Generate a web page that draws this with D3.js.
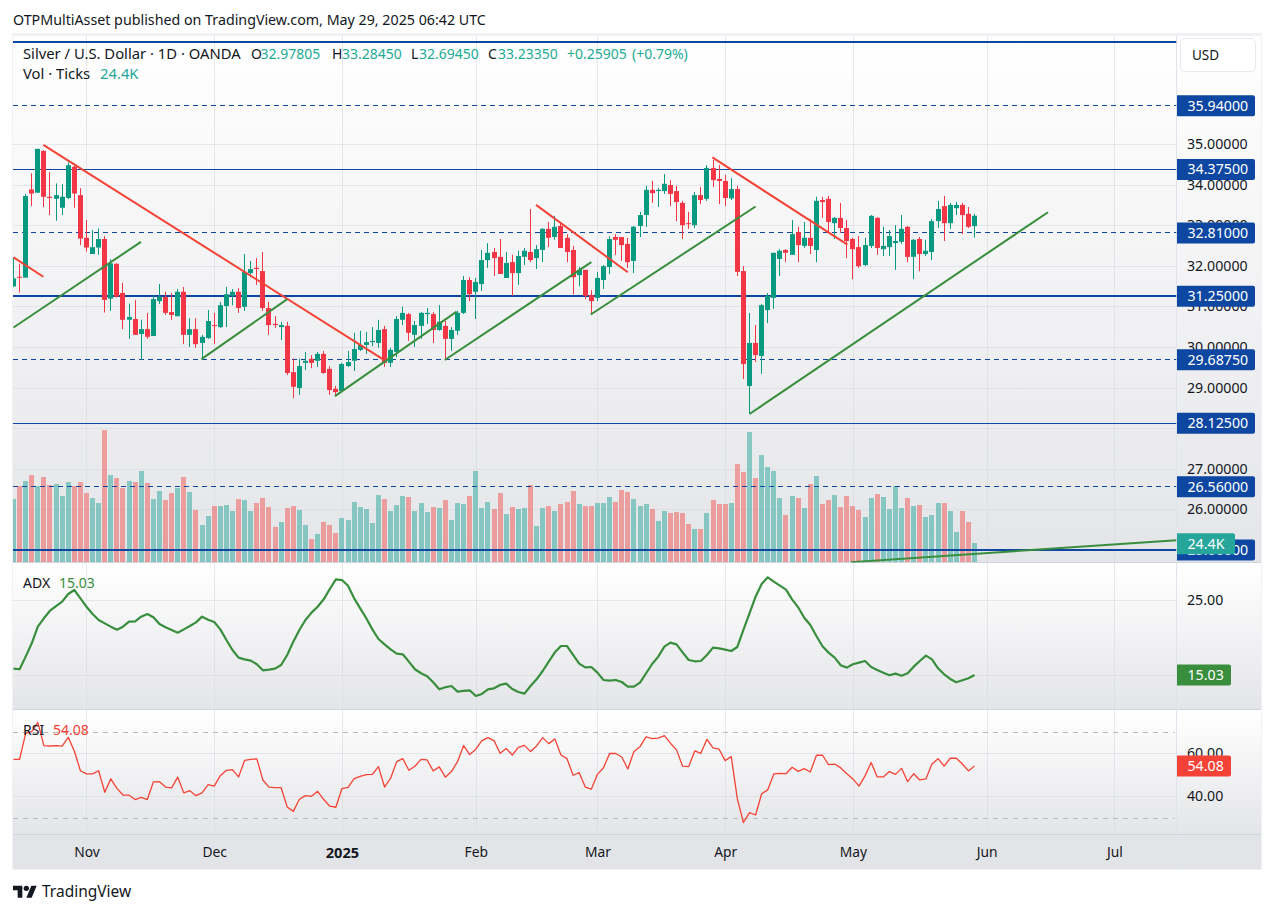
<!DOCTYPE html>
<html><head><meta charset="utf-8">
<script src="https://cdn.jsdelivr.net/npm/d3@7/dist/d3.min.js"></script>
<style>
html,body{margin:0;padding:0;background:#fff;}
svg{display:block;}
text{font-family:"Noto Sans",sans-serif;}
</style></head><body><div id="c"></div>
<script>
const opens=[31.49,31.73,31.71,33.88,33.80,34.83,33.70,33.65,33.43,33.67,
34.44,33.74,32.69,32.29,32.45,32.66,31.19,32.05,31.33,30.67,
30.69,30.32,30.44,30.27,31.13,31.23,30.86,30.76,31.36,30.30,
30.44,30.10,30.22,30.54,30.49,31.01,31.26,31.36,30.99,31.82,
31.95,31.87,30.96,30.57,30.49,30.52,29.38,28.99,29.61,29.71,
29.66,29.83,29.46,28.97,28.92,29.53,29.66,29.93,30.05,30.12,
30.10,30.44,29.61,29.88,30.67,30.81,30.30,30.52,30.81,30.81,
30.42,30.52,30.20,30.40,30.84,31.65,31.36,31.55,32.14,32.34,
32.22,31.70,32.09,31.82,32.22,32.34,32.19,32.39,32.91,32.71,
32.98,32.69,32.39,31.77,31.90,31.28,31.21,31.65,31.97,32.71,
32.71,32.54,32.12,32.98,33.25,33.87,33.84,33.84,33.99,33.84,
33.55,33.05,33.00,33.74,33.65,34.41,34.14,34.09,33.66,33.89,
31.87,29.04,30.10,29.78,30.91,31.21,32.17,32.39,32.27,32.83,
32.49,32.69,32.39,33.62,33.65,33.05,33.18,32.93,32.66,32.46,
32.02,32.49,33.18,32.41,32.46,32.56,32.59,32.96,32.22,32.66,
32.29,32.34,33.10,33.47,33.05,33.42,33.50,33.28,32.97805];
const highs=[32.21,32.05,33.77,34.28,34.88,34.85,34.31,34.03,34.01,34.55,
34.52,33.91,33.13,32.88,32.92,32.73,32.16,32.06,31.58,31.07,
31.16,30.67,30.84,31.28,31.55,31.36,31.33,31.43,31.48,30.71,
30.71,30.30,30.91,30.84,31.11,31.48,31.43,31.45,32.29,32.12,
32.19,32.34,31.11,30.76,30.62,30.62,29.72,29.71,29.88,29.80,
29.88,29.90,29.53,29.04,29.61,29.90,30.35,30.40,30.37,30.49,
30.67,30.52,29.98,30.76,30.99,30.84,30.64,30.86,30.96,30.86,
31.03,30.64,30.49,30.89,31.75,31.72,31.70,32.39,32.56,32.44,
32.66,32.34,32.27,32.37,32.44,33.40,32.51,32.93,33.08,33.23,
33.05,32.78,32.49,31.97,31.90,31.40,31.85,32.02,32.73,32.78,
32.71,32.69,32.98,33.33,33.97,34.09,33.92,34.26,34.11,33.97,
33.60,33.33,33.82,33.94,34.48,34.61,34.48,34.24,34.16,33.97,
31.99,30.84,30.54,31.06,31.33,32.32,32.41,32.41,33.13,32.96,
33.08,33.15,33.70,33.70,33.72,33.20,33.55,33.13,32.69,32.73,
32.69,33.25,33.20,32.96,32.88,33.00,33.25,32.98,32.66,32.71,
32.64,33.15,33.60,33.72,33.55,33.57,33.55,33.45,33.2845];
const lows=[31.49,31.34,31.71,33.47,33.80,33.45,33.25,33.11,33.25,33.64,
33.43,32.51,32.35,32.29,32.27,30.85,30.89,31.22,30.44,30.20,
30.30,29.68,30.20,30.27,31.06,30.79,30.67,30.75,30.07,30.00,
29.98,29.68,30.20,30.07,30.47,30.49,31.03,30.84,30.89,31.72,
31.53,30.89,30.30,30.47,30.17,29.31,28.74,28.82,29.43,29.48,
29.51,29.34,28.82,28.79,28.92,29.51,29.41,29.90,29.83,30.02,
29.98,29.51,29.51,29.75,30.54,30.15,30.00,30.20,30.57,30.10,
30.40,29.68,29.90,30.30,30.81,31.13,30.69,31.38,31.95,31.75,
31.80,31.70,31.26,31.53,32.02,32.09,31.92,32.09,32.46,32.64,
32.44,32.09,31.30,31.50,31.18,30.79,31.13,31.43,31.80,32.27,
32.12,31.95,31.82,32.71,32.96,33.55,33.45,33.77,33.47,33.10,
32.66,32.91,32.93,33.52,33.60,33.94,33.52,33.47,33.62,31.75,
29.21,28.35,29.63,29.34,30.59,30.94,31.75,32.09,32.27,32.09,
32.44,32.29,32.09,33.18,32.83,32.66,32.81,32.19,31.67,31.95,
31.99,32.44,32.27,32.24,32.24,31.90,32.54,32.09,31.67,31.87,
32.24,32.14,32.93,32.61,32.91,33.25,32.78,32.93,32.6945];
const closes=[31.69,31.71,33.72,33.78,34.88,33.70,33.67,33.74,33.70,34.48,
33.78,32.67,32.45,32.46,32.66,31.16,32.06,31.24,30.67,30.74,
30.30,30.44,30.25,31.18,31.24,30.84,30.79,31.36,30.30,30.44,
30.07,30.25,30.64,30.52,31.03,31.30,31.36,30.96,31.85,31.92,
31.92,30.96,30.54,30.54,30.54,29.36,29.02,29.53,29.66,29.61,
29.83,29.36,28.94,28.89,29.58,29.63,29.95,30.05,30.12,30.15,
30.42,29.61,29.93,30.69,30.84,30.35,30.54,30.84,30.84,30.42,
30.62,30.20,30.42,30.84,31.65,31.30,31.60,32.14,32.32,32.19,
31.80,32.07,31.82,32.24,32.37,32.14,32.41,32.91,32.69,32.96,
32.44,32.34,31.72,31.90,31.26,31.13,31.70,31.99,32.66,32.64,
32.51,32.09,32.96,33.25,33.87,33.79,33.87,34.02,33.77,33.57,
33.00,33.03,33.74,33.62,34.41,34.11,34.09,33.67,33.89,31.85,
29.58,30.10,29.80,31.03,31.26,32.32,32.37,32.32,32.78,32.51,
32.69,32.49,33.60,33.57,33.08,33.18,32.93,32.61,32.41,31.99,
32.51,33.23,32.44,32.49,32.73,32.61,32.91,32.22,32.64,32.29,
32.37,33.10,33.40,33.05,33.50,33.50,33.25,32.96,33.2335];
const volumes=[80.9,97.6,104.0,111.7,97.6,109.2,98.9,100.2,84.8,102.7,
97.6,102.7,88.6,82.2,75.8,169.5,111.7,107.9,95.0,104.0,
102.7,116.9,101.5,80.9,91.2,79.6,88.6,95.0,109.2,89.9,
66.8,47.5,59.1,71.9,71.9,73.2,65.5,80.9,79.6,65.5,
75.8,82.2,70.6,45.0,51.4,69.4,71.9,66.8,47.5,29.5,
36.0,51.4,47.5,37.2,56.5,53.9,77.1,70.6,68.1,50.1,
86.0,80.9,65.5,73.2,84.8,83.5,65.5,75.8,64.2,70.6,
69.4,79.6,53.9,75.8,74.5,84.8,116.9,69.4,77.1,68.1,
88.6,61.6,70.6,68.1,69.4,98.9,46.2,69.4,71.9,65.5,
74.5,77.1,91.2,74.5,71.9,71.9,75.8,75.8,83.5,77.1,
92.5,89.9,80.9,71.9,74.5,68.1,52.7,65.5,62.9,64.2,
62.9,48.8,42.4,42.4,62.9,79.6,74.5,74.5,75.8,125.9,
115.6,167.0,107.9,137.4,122.0,116.9,82.2,60.4,84.8,82.2,
69.4,100.2,110.5,74.5,79.6,86.0,70.6,84.8,71.9,66.8,
57.8,82.2,87.3,83.5,68.1,97.6,69.4,82.2,71.9,73.2,
57.8,60.4,75.8,75.8,65.5,38.5,65.5,51.4,24.4];
const adx=[15.88,15.80,17.48,19.25,21.46,22.57,23.58,24.20,24.78,25.80,
26.33,25.22,24.11,23.14,22.35,21.90,21.46,21.06,21.46,22.12,
22.17,22.79,23.14,22.70,21.81,21.37,21.02,20.66,21.10,21.54,
22.03,22.79,22.39,22.08,21.10,19.69,18.36,17.35,17.12,16.95,
16.46,15.66,15.75,15.88,16.37,17.70,19.47,21.02,22.35,23.32,
24.11,25.09,26.46,27.74,27.65,26.90,25.22,23.89,22.57,21.10,
19.82,19.11,18.45,17.88,17.79,16.81,15.80,15.27,14.87,14.07,
13.14,13.41,13.58,12.83,12.92,13.01,12.26,12.52,13.14,13.27,
13.72,13.89,13.18,12.79,12.56,13.58,14.47,15.57,16.81,18.05,
18.89,18.89,17.70,16.55,16.06,16.10,15.35,14.38,14.29,14.38,
14.11,13.50,13.50,14.02,15.27,16.50,17.48,18.80,19.34,19.11,
18.05,17.03,16.86,16.90,17.70,18.67,18.58,18.41,18.23,18.76,
21.02,23.23,25.44,27.12,28.01,27.43,26.90,26.37,25.09,24.03,
22.65,21.68,20.22,18.85,18.01,17.35,16.33,16.02,16.46,16.68,
16.90,16.10,15.71,15.35,15.00,15.22,14.95,15.27,16.15,16.90,
17.61,17.12,15.93,15.13,14.51,14.07,14.34,14.60,15.03];
const rsi=[57.2,57.2,69.3,70.1,74.4,63.6,63.4,63.6,63.3,67.4,
61.1,51.9,50.4,50.4,51.9,41.9,48.1,43.7,40.6,40.5,
38.5,39.5,38.5,46.7,46.8,44.3,43.9,48.9,41.6,42.6,
40.3,41.6,45.4,44.7,49.6,52.1,52.4,49.0,56.7,57.2,
57.4,47.6,44.3,44.0,44.0,35.0,33.0,38.6,40.3,40.0,
42.3,38.5,35.4,34.9,43.6,44.2,48.2,49.3,50.1,50.2,
53.8,44.3,48.4,56.1,57.5,52.1,54.0,57.2,56.9,51.8,
53.7,48.9,51.5,56.1,63.6,59.4,61.9,65.9,67.3,65.9,
60.0,62.2,59.2,62.8,63.7,60.8,63.4,67.3,64.5,66.7,
59.2,57.5,49.8,51.0,44.3,43.3,50.2,53.3,59.9,59.9,
58.3,52.7,60.8,63.1,67.6,66.8,67.1,68.2,64.7,61.6,
54.0,53.8,61.1,60.0,66.5,62.5,61.9,56.6,58.5,38.8,
27.8,32.4,31.3,41.2,43.0,50.4,50.7,50.5,53.5,51.6,
52.9,51.3,59.1,59.1,54.7,55.0,53.2,50.5,48.1,44.7,
49.5,55.7,49.0,49.0,51.5,50.2,53.0,46.8,50.5,47.6,
48.1,55.0,57.5,54.1,57.7,57.7,55.0,51.8,54.08];

const monthBars=[12,33,54,76,96,117,138,160,181];
const monthLabels=["Nov","Dec","2025","Feb","Mar","Apr","May","Jun","Jul"];
const priceTicks=[35,34,33,32,31,30,29,28,27,26,25];
const solidThick=[37.5,31.25,25];
const solidThin=[34.375,28.125];
const dashed=[35.94,32.81,29.6875,26.56];
const levelLabels=[35.94,34.375,32.81,31.25,29.6875,28.125,26.56,25];
const adxTicks=[25,15];
const rsiTicks=[60,40];
const rsiBands=[70,30];
// trend lines: [bar, price, bar, price]
const redLines=[[0,32.21,4.9,31.73],[4.9,34.98,60.7,29.70],[85.9,33.50,101,31.84],[114.9,34.67,137.1,32.52]];
const greenLines=[[0,30.48,20.96,32.59],[30.9,29.70,45,31.18],[52.85,28.79,72.85,30.87],[70.9,29.68,95,32.09],[94.9,30.80,122,33.46],[121,28.35,170.07,33.32],[137.7,24.70,191.2,25.24]];

const W=1274,H=913;
const L=13.5,R=1176.5,AX=1261;
const FONT='"Noto Sans",sans-serif';
const x=d3.scaleLinear().domain([0,191.2]).range([L,R]);
const y=d3.scaleLinear().domain([25,35]).range([550,144]);
const yv=d3.scaleLinear().domain([0,171]).range([562,428.9]);
const ya=d3.scaleLinear().domain([15,25]).range([675.3,600]);
const yr=d3.scaleLinear().domain([40,60]).range([796.3,753.3]);

const svg=d3.select("#c").append("svg").attr("width",W).attr("height",H).attr("viewBox",`0 0 ${W} ${H}`);
const defs=svg.append("defs");
const g1=defs.append("linearGradient").attr("id","pg").attr("x1",0).attr("x2",0).attr("y1",0).attr("y2",1);
g1.append("stop").attr("offset",0).attr("stop-color","#ffffff");
g1.append("stop").attr("offset",1).attr("stop-color","#e4e5e8");
defs.append("clipPath").attr("id","mc").append("rect").attr("x",13).attr("y",36).attr("width",1163.5).attr("height",526.5);
defs.append("clipPath").attr("id","ac").append("rect").attr("x",13).attr("y",563).attr("width",1163.5).attr("height",146);
defs.append("clipPath").attr("id","rc").append("rect").attr("x",13).attr("y",710).attr("width",1163.5).attr("height",124);

// frame and panes
svg.append("rect").attr("x",12).attr("y",33).attr("width",AX-11).attr("height",837).attr("fill","#f0f1f4");
[[36,527],[563,146],[710,124]].forEach(([t,h])=>{
  svg.append("rect").attr("x",13).attr("y",t).attr("width",AX-13).attr("height",h).attr("fill","url(#pg)");
});
svg.append("rect").attr("x",13).attr("y",834).attr("width",AX-13).attr("height",35).attr("fill","#e3e4e7");

// grid
const grid=svg.append("g").attr("stroke","#d8dae0").attr("stroke-opacity",.6).attr("stroke-width",1);
monthBars.forEach(b=>{const X=Math.round(x(b))+.5;grid.append("line").attr("x1",X).attr("x2",X).attr("y1",36).attr("y2",834);});
priceTicks.forEach(p=>{const Y=Math.round(y(p))+.5;grid.append("line").attr("x1",13).attr("x2",R).attr("y1",Y).attr("y2",Y).attr("clip-path","url(#mc)");});
adxTicks.forEach(p=>{const Y=Math.round(ya(p))+.5;grid.append("line").attr("x1",13).attr("x2",R).attr("y1",Y).attr("y2",Y);});
rsiTicks.forEach(p=>{const Y=Math.round(yr(p))+.5;grid.append("line").attr("x1",13).attr("x2",R).attr("y1",Y).attr("y2",Y);});

// separators
const seps=svg.append("g").attr("stroke","#d1d4dc");
[562.5,709.5,834.5].forEach(Y=>seps.append("line").attr("x1",13).attr("x2",AX).attr("y1",Y).attr("y2",Y));
seps.append("line").attr("x1",1176.5).attr("x2",1176.5).attr("y1",36).attr("y2",869).attr("stroke","#e0e3eb");

const idx=d3.range(opens.length);
const isUp=i=>closes[i]>=opens[i];

// volume bars
const main=svg.append("g").attr("clip-path","url(#mc)");
main.append("g").selectAll("rect").data(idx).join("rect")
  .attr("x",i=>Math.floor(x(i))-2).attr("width",5)
  .attr("y",i=>yv(volumes[i])).attr("height",i=>yv(0)-yv(volumes[i]))
  .attr("fill",i=>isUp(i)?"rgba(38,166,154,.5)":"rgba(239,83,80,.5)");

// horizontal levels
const lv=main.append("g").attr("stroke","#0d47a1");
solidThin.forEach(p=>{const Y=Math.floor(y(p))+.5;lv.append("line").attr("x1",13).attr("x2",R).attr("y1",Y).attr("y2",Y).attr("stroke-width",1);});
dashed.forEach(p=>{const Y=Math.floor(y(p))+.5;lv.append("line").attr("x1",13).attr("x2",R).attr("y1",Y).attr("y2",Y).attr("stroke-width",1).attr("stroke-dasharray","5 4");});
solidThick.forEach(p=>{const Y=Math.floor(y(p));lv.append("line").attr("x1",13).attr("x2",R).attr("y1",Y).attr("y2",Y).attr("stroke-width",2);});

// candles
const UP="#089981",DN="#f23645";
const cand=main.append("g");
cand.selectAll("rect.w").data(idx).join("rect").attr("class","w")
  .attr("x",i=>Math.floor(x(i))).attr("width",1)
  .attr("y",i=>y(highs[i])).attr("height",i=>y(lows[i])-y(highs[i]))
  .attr("fill",i=>isUp(i)?UP:DN);
cand.selectAll("rect.b").data(idx).join("rect").attr("class","b")
  .attr("x",i=>Math.floor(x(i))-2).attr("width",5)
  .attr("y",i=>y(Math.max(opens[i],closes[i])))
  .attr("height",i=>Math.max(1,Math.abs(y(opens[i])-y(closes[i]))))
  .attr("fill",i=>isUp(i)?UP:DN);

// trend lines
const tl=main.append("g").attr("fill","none").attr("stroke-width",2);
redLines.forEach(d=>tl.append("line").attr("x1",x(d[0])).attr("y1",y(d[1])).attr("x2",x(d[2])).attr("y2",y(d[3])).attr("stroke","#f44336"));
greenLines.forEach(d=>tl.append("line").attr("x1",x(d[0])).attr("y1",y(d[1])).attr("x2",x(d[2])).attr("y2",y(d[3])).attr("stroke","#388e3c"));

// ADX
const lineA=d3.line().x((d,i)=>x(i)).y(d=>ya(d));
svg.append("path").attr("clip-path","url(#ac)").attr("d",lineA(adx)).attr("fill","none").attr("stroke","#388e3c").attr("stroke-width",2.2).attr("stroke-linejoin","round");

// RSI
rsiBands.forEach(v=>svg.append("line").attr("x1",13).attr("x2",R-2).attr("y1",Math.round(yr(v))+.5).attr("y2",Math.round(yr(v))+.5).attr("stroke","#b9bbc0").attr("stroke-dasharray","5 5"));
const lineR=d3.line().x((d,i)=>x(i)).y(d=>yr(d));
svg.append("path").attr("clip-path","url(#rc)").attr("d",lineR(rsi)).attr("fill","none").attr("stroke","#f44336").attr("stroke-width",1.3).attr("stroke-linejoin","round");

// axes
function styleAxis(g,size){
  g.select(".domain").remove();
  g.selectAll(".tick line").remove();
  g.selectAll("text").attr("fill","#131722").attr("font-size",size).attr("font-family",FONT);
}
const AS=14.2;
const axP=svg.append("g").attr("transform","translate(1187,0)").call(d3.axisRight(y).tickValues(priceTicks).tickFormat(d3.format(".5f")).tickSize(0).tickPadding(0));
styleAxis(axP,AS);
svg.append("g").attr("transform","translate(1187,0)").call(d3.axisRight(ya).tickValues([25]).tickFormat(d3.format(".2f")).tickSize(0).tickPadding(0)).call(styleAxis,AS);
svg.append("g").attr("transform","translate(1187,0)").call(d3.axisRight(yr).tickValues(rsiTicks).tickFormat(d3.format(".2f")).tickSize(0).tickPadding(0)).call(styleAxis,AS);
const axT=svg.append("g").attr("transform","translate(0,845)").call(d3.axisBottom(x).tickValues(monthBars).tickFormat((d,i)=>monthLabels[i]).tickSize(0).tickPadding(0));
styleAxis(axT,13.8);
axT.selectAll("text").attr("dy",".9em").attr("font-weight",(d,i)=>monthLabels[i]==="2025"?700:400).attr("font-size",(d,i)=>monthLabels[i]==="2025"?14.6:13.8);

// value boxes
function box(cy,w,fill,label){
  const g=svg.append("g");
  g.append("path").attr("d",`M1177 ${cy-10.5}H${1177+w-2}a2 2 0 0 1 2 2V${cy+8.5}a2 2 0 0 1 -2 2H1177Z`).attr("fill",fill);
  g.append("text").attr("x",1187.5).attr("y",cy).attr("dy",".36em").attr("fill","#fff").attr("font-size",AS).attr("font-family",FONT).text(label);
}
levelLabels.forEach(p=>box(y(p),78,"#0d47a1",d3.format(".5f")(p)));
box(543.7,58,"#26a69a","24.4K");
box(ya(adx[adx.length-1]),54,"#388e3c","15.03");
box(yr(rsi[rsi.length-1]),54,"#f44336","54.08");

// USD button
svg.append("rect").attr("x",1180.5).attr("y",38.5).attr("width",75).attr("height",33).attr("rx",5).attr("fill","#fff").attr("stroke","#e8e9ee");
svg.append("text").attr("x",1192).attr("y",55).attr("dy",".36em").attr("fill","#131722").attr("font-size",13.5).text("USD");

// header
function t(xp,yp,s,fill,size){return svg.append("text").attr("x",xp).attr("y",yp).attr("dy",".36em").attr("fill",fill).attr("font-size",size||14).text(s);}
t(13,20,"OTPMultiAsset published on TradingView.com, May 29, 2025 06:42 UTC","#131722",14.25);
const G="#22ab94";
t(23,54,"Silver / U.S. Dollar · 1D · OANDA","#131722",14.8);
t(251,54,"O","#131722");t(260.5,54,"32.97805",G);
t(332,54,"H","#131722");t(342,54,"33.28450",G);
t(411,54,"L","#131722");t(419,54,"32.69450",G);
t(488,54,"C","#131722");t(498,54,"33.23350",G);
t(567,54,"+0.25905",G);t(632,54,"(+0.79%)",G);
t(23,74,"Vol · Ticks","#131722",14.8);t(100,74,"24.4K","#26a69a",14.8);
t(23,583,"ADX","#131722");t(59,583,"15.03","#388e3c");
t(23,730,"RSI","#131722");t(53,730,"54.08","#f44336");

// logo
const logo=svg.append("g").attr("transform","translate(13,881) scale(.667)").attr("fill","#131722");
logo.append("path").attr("d","M14 25H7V14H0V7h14v18zM28 25h-8l7.5-18h8L28 25z");
logo.append("circle").attr("cx",20).attr("cy",11).attr("r",4);
t(42,891,"TradingView","#131722",15.5);
</script></body></html>
